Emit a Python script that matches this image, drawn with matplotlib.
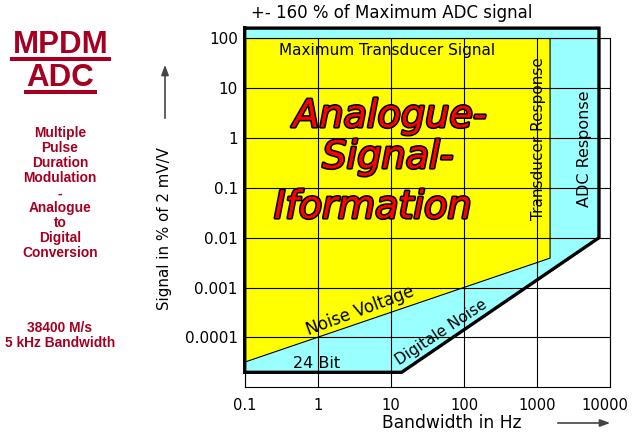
import matplotlib
matplotlib.use('Agg')
import matplotlib.pyplot as plt
import matplotlib.patheffects as pe
import matplotlib.transforms as mtransforms
from matplotlib.lines import Line2D
from matplotlib.patches import FancyArrowPatch
from matplotlib.ticker import NullLocator

plt.rcParams['font.family'] = ['DejaVu Sans']

# ---------------- data ----------------
x_ticks = [0.1, 1, 10, 100, 1000, 10000]
x_tick_labels = ['0.1', '1', '10', '100', '1000', '10000']
y_ticks = [1e-4, 1e-3, 1e-2, 1e-1, 1, 10, 100]
y_tick_labels = ['0.0001', '0.001', '0.01', '0.1', '1', '10', '100']

# ADC response region (Hz, % of 2 mV/V)
adc_x = [0.1, 7000, 7000, 14, 0.1]
adc_y = [160, 160, 0.01, 2e-5, 2e-5]
# Transducer region
trans_x = [0.1, 1500, 1500, 0.1]
trans_y = [100, 100, 0.0039, 3.2e-5]

# ---------------- figure ----------------
W, H = 632, 434
fig = plt.figure(figsize=(W / 100, H / 100), dpi=100)
fig.patch.set_facecolor('white')

def P(x, y):
    return x / W, 1 - y / H

L, R, T, B = 244.7, 610.3, 38.3, 387.3
ax = fig.add_axes([L / W, 1 - B / H, (R - L) / W, (B - T) / H])
ax.set_xscale('log')
ax.set_yscale('log')
ax.set_xlim(0.1, 10000)
ax.set_ylim(1e-5, 100)

adc_fill = ax.fill(adc_x, adc_y, facecolor='#99ffff', edgecolor='none', zorder=1)
for p in adc_fill:
    p.set_clip_on(False)
ax.fill(trans_x, trans_y, facecolor='#ffff00', edgecolor='k', lw=0.8, zorder=2)
ax.plot(adc_x + [adc_x[0]], adc_y + [adc_y[0]], color='k', lw=2.4,
        clip_on=False, zorder=5, solid_joinstyle='miter')

ax.set_xticks(x_ticks)
ax.set_xticklabels(x_tick_labels)
ax.set_yticks(y_ticks)
ax.set_yticklabels(y_tick_labels)
ax.xaxis.set_minor_locator(NullLocator())
ax.yaxis.set_minor_locator(NullLocator())
ax.tick_params(axis='both', length=0, labelsize=11)
ax.tick_params(axis='x', labelsize=10.6, pad=8)
ax.tick_params(axis='y', pad=5)
ax.grid(True, which='major', color='k', lw=0.8)
ax.set_axisbelow(False)
for s in ax.spines.values():
    s.set_linewidth(0.8)
    s.set_color('k')
# keep the last x label inside the figure (as in the reference)
last = ax.get_xticklabels()[-1]
last.set_transform(last.get_transform() + mtransforms.ScaledTranslation(-5 / 100, 0, fig.dpi_scale_trans))

# texts inside plot
fig.text(*P(391.7, 13.3), '+- 160 % of Maximum ADC signal', ha='center', va='center', fontsize=12)
fig.text(*P(386.7, 50), 'Maximum Transducer Signal', ha='center', va='center', fontsize=11, zorder=6)
fig.text(*P(538, 139), 'Transducer Response', ha='center', va='center', fontsize=11, rotation=90, zorder=6)
fig.text(*P(584, 149), 'ADC Response', ha='center', va='center', fontsize=11.5, rotation=90, zorder=6)
fig.text(*P(360, 311), 'Noise Voltage', ha='center', va='center', fontsize=12, rotation=20.4, zorder=6)
fig.text(*P(441, 332), 'Digitale Noise', ha='center', va='center', fontsize=11, rotation=33.5, zorder=6)
fig.text(*P(317, 363), '24 Bit', ha='center', va='center', fontsize=11.5, zorder=6)

big = dict(ha='center', va='baseline', fontsize=27.5, style='italic', color='#ff0000',
           path_effects=[pe.withStroke(linewidth=2.3, foreground='k')], zorder=7)
fig.text(*P(390, 127), 'Analogue-', **big)
fig.text(*P(388, 168), 'Signal-', **big)
fig.text(*P(373, 218), 'Iformation', **big)

# axis labels and arrows
fig.text(*P(165, 229), 'Signal in % of 2 mV/V', ha='center', va='center', fontsize=10.8, rotation=90)
fig.text(*P(451.7, 422.7), 'Bandwidth in Hz', ha='center', va='center', fontsize=12.3)
fig.add_artist(FancyArrowPatch(P(165, 121), P(165, 62), transform=fig.transFigure,
               arrowstyle='-|>,head_length=6,head_width=2.2', color='#444444', lw=1.2, mutation_scale=1))
fig.add_artist(FancyArrowPatch(P(555, 423), P(613, 423), transform=fig.transFigure,
               arrowstyle='-|>,head_length=6,head_width=2.2', color='#444444', lw=1.2, mutation_scale=1))

# left panel
red = '#a50021'
lf = ['Liberation Sans', 'DejaVu Sans']
fig.text(*P(60.5, 53), 'MPDM', ha='center', va='baseline', fontsize=22.5, weight='bold', color=red, family=lf)
fig.text(*P(60.5, 86), 'ADC', ha='center', va='baseline', fontsize=22.5, weight='bold', color=red, family=lf)
fig.add_artist(Line2D([12 / W, 109 / W], [1 - 58.5 / H] * 2, color=red, lw=2.9, transform=fig.transFigure))
fig.add_artist(Line2D([26 / W, 95 / W], [1 - 91.5 / H] * 2, color=red, lw=2.9, transform=fig.transFigure))

lines = ['Multiple', 'Pulse', 'Duration', 'Modulation', '-', 'Analogue', 'to', 'Digital', 'Conversion']
for i, t in enumerate(lines):
    fig.text(*P(60, 133.3 + 15 * i), t, ha='center', va='center', fontsize=9.9, weight='bold',
             color=red, family=lf)
fig.text(*P(60, 328), '38400 M/s', ha='center', va='center', fontsize=9.9, weight='bold', color=red, family=lf)
fig.text(*P(60, 343.3), '5 kHz Bandwidth', ha='center', va='center', fontsize=9.9, weight='bold', color=red, family=lf)

fig.savefig('out.png', dpi=100)
